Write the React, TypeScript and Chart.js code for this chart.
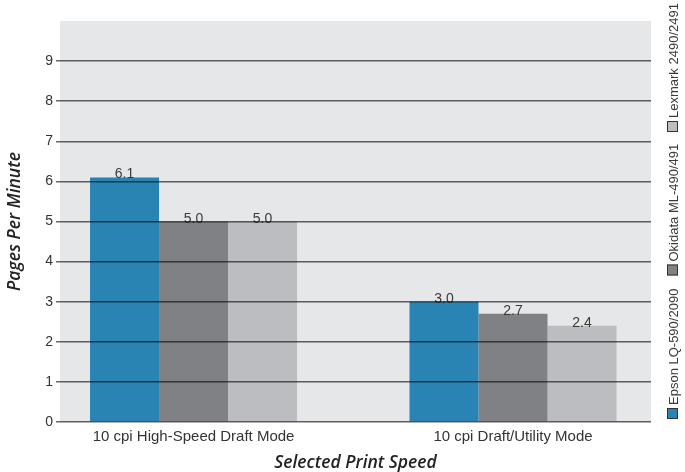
import { useEffect, useRef } from 'react';
import { Chart, registerables } from 'chart.js';

Chart.register(...registerables);

const categories = ['10 cpi High-Speed Draft Mode', '10 cpi Draft/Utility Mode'];
const seriesNames = ['Epson LQ-590/2090', 'Okidata ML-490/491', 'Lexmark 2490/2491'];
const epsonValues = [6.1, 3.0];
const okidataValues = [5.0, 2.7];
const lexmarkValues = [5.0, 2.4];
const seriesValues = [epsonValues, okidataValues, lexmarkValues];
const seriesColors = ['#2a84b3', '#808184', '#bcbdc0'];
const yAxisMax = 10;
const yTickLabels = ['0', '1', '2', '3', '4', '5', '6', '7', '8', '9'];
const xTitle = 'Selected Print Speed';
const yTitle = 'Pages Per Minute';

const TICK_FONT = '"Liberation Sans", Arial, sans-serif';
const TITLE_FONT = '"Open Sans", "Noto Sans", sans-serif';

const plotBackground = {
  id: 'plotBackground',
  beforeDraw(chart: any) {
    const { ctx, chartArea } = chart;
    ctx.save();
    ctx.fillStyle = '#e6e7e8';
    ctx.fillRect(chartArea.left, chartArea.top, chartArea.right - chartArea.left, chartArea.bottom - chartArea.top);
    ctx.restore();
  },
};

const valueLabels = {
  id: 'valueLabels',
  afterDatasetsDraw(chart: any) {
    const { ctx } = chart;
    ctx.save();
    ctx.font = `14px ${TICK_FONT}`;
    ctx.fillStyle = '#3a3a3a';
    ctx.textAlign = 'center';
    ctx.textBaseline = 'alphabetic';
    chart.data.datasets.forEach((ds: any, di: number) => {
      const meta = chart.getDatasetMeta(di);
      meta.data.forEach((bar: any, i: number) => {
        const v = ds.data[i].y;
        ctx.fillText(v.toFixed(1), bar.x, bar.y + 1);
      });
    });
    ctx.restore();
  },
};

const rotatedLegend = {
  id: 'rotatedLegend',
  afterDraw(chart: any) {
    const { ctx, chartArea } = chart;
    ctx.save();
    ctx.font = `13px ${TICK_FONT}`;
    ctx.textAlign = 'left';
    ctx.textBaseline = 'alphabetic';
    const boxLeft = chartArea.right + 16;
    const box = 11;
    const step = 143.5;
    chart.data.datasets.forEach((ds: any, i: number) => {
      const boxBottom = chartArea.bottom - 3 - i * step;
      ctx.fillStyle = ds.backgroundColor;
      ctx.fillRect(boxLeft, boxBottom - box, box, box);
      ctx.strokeStyle = '#333';
      ctx.lineWidth = 1;
      ctx.strokeRect(boxLeft + 0.5, boxBottom - box + 0.5, box - 1, box - 1);
      ctx.save();
      ctx.translate(boxLeft + box, boxBottom - box - 3);
      ctx.rotate(-Math.PI / 2);
      ctx.fillStyle = '#3a3a3a';
      ctx.fillText(ds.label, 0, 0);
      ctx.restore();
    });
    ctx.restore();
  },
};

export default function App() {
  const canvasRef = useRef<HTMLCanvasElement | null>(null);

  useEffect(() => {
    document.body.style.margin = '0';
    const canvas = canvasRef.current;
    if (!canvas) return;
    const chart = new Chart(canvas, {
      type: 'bar',
      data: {
        datasets: seriesNames.map((name, si) => ({
          label: name,
          data: categories.map((_, ci) => ({ x: ci, y: seriesValues[si][ci] })),
          backgroundColor: seriesColors[si],
          borderWidth: 0,
          categoryPercentage: 0.648,
          barPercentage: 1,
        })),
      },
      options: {
        responsive: false,
        animation: false,
        devicePixelRatio: 1,
        layout: { padding: { top: 21, right: 34, bottom: 0, left: 0 } },
        plugins: {
          legend: { display: false },
          tooltip: { enabled: false },
          title: { display: false },
        },
        scales: {
          x: {
            type: 'linear',
            offset: false,
            min: -0.418,
            max: 1.432,
            grid: { display: false, drawTicks: false },
            border: { display: false },
            afterBuildTicks(scale: any) {
              scale.ticks = categories.map((_, i) => ({ value: i }));
            },
            afterFit(scale: any) {
              scale.height = 50;
            },
            ticks: {
              autoSkip: false,
              maxRotation: 0,
              padding: 6,
              color: '#333',
              font: { family: TICK_FONT, size: 15 },
              callback: (v: any) => categories[v as number] ?? '',
            },
            title: {
              display: true,
              text: xTitle,
              color: '#222',
              font: { family: TITLE_FONT, size: 17.5, style: 'italic', weight: 600, lineHeight: 1.1 },
              padding: { top: 0, bottom: -1 },
            },
          },
          y: {
            min: 0,
            max: yAxisMax,
            ticks: {
              stepSize: 1,
              padding: 3,
              color: '#333',
              font: { family: TICK_FONT, size: 14 },
              callback: (v: any) => yTickLabels[v as number] ?? '',
            },
            grid: {
              z: 1,
              color: (c: any) => (c.tick && c.tick.value >= yAxisMax ? 'rgba(0,0,0,0)' : 'rgba(0,0,0,0.6)'),
              lineWidth: 1.5,
              tickLength: 4,
              drawTicks: true,
            },
            border: { display: false },
            afterFit(scale: any) {
              scale.width = 60;
            },
            title: {
              display: true,
              text: yTitle,
              color: '#222',
              font: { family: TITLE_FONT, size: 17.5, style: 'italic', weight: 600, lineHeight: 1.2 },
              padding: { top: 5, bottom: 0 },
            },
          },
        },
      } as any,
      plugins: [plotBackground, valueLabels, rotatedLegend],
    });
    return () => chart.destroy();
  }, []);

  return (
    <div style={{ width: 685, height: 472, position: 'relative' }}>
      <canvas ref={canvasRef} width={685} height={472} style={{ display: 'block', width: 685, height: 472 }} />
    </div>
  );
}
